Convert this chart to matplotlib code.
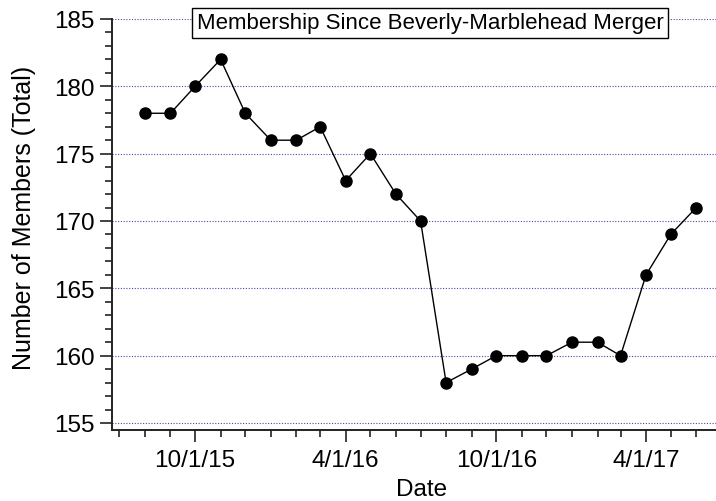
import matplotlib
matplotlib.use("Agg")
import matplotlib.pyplot as plt
import matplotlib.dates as mdates
import numpy as np
import pandas as pd

dates = pd.date_range("2015-08-01", "2017-06-01", freq="MS")
members = [178, 178, 180, 182, 178, 176, 176, 177, 173, 175, 172, 170,
           158, 159, 160, 160, 160, 161, 161, 160, 166, 169, 171]
major_ticks = pd.to_datetime(["2015-10-01", "2016-04-01", "2016-10-01", "2017-04-01"])
major_labels = ["10/1/15", "4/1/16", "10/1/16", "4/1/17"]
title = "Membership Since Beverly-Marblehead Merger"

plt.rcParams['font.family'] = ['Liberation Sans', 'DejaVu Sans']

fig = plt.figure(figsize=(7.16, 5.02), dpi=100)
ax = fig.add_axes([112/716, 71/502, 1 - 112/716, (431-20)/502])

ax.plot(dates, members, color='black', lw=1.0, marker='o', ms=8, zorder=3)

ax.set_ylim(154.48, 185)
ax.set_xlim(pd.Timestamp("2015-06-22"), pd.Timestamp("2017-06-25"))

ax.set_yticks(np.arange(155, 186, 5))
ax.yaxis.set_minor_locator(matplotlib.ticker.MultipleLocator(1))
ax.set_xticks(major_ticks)
ax.set_xticklabels(major_labels)
ax.xaxis.set_minor_locator(mdates.MonthLocator())

ax.grid(axis='y', which='major', color='#4a4aa8', linestyle=(0, (1, 1.5)), lw=0.8)
ax.set_axisbelow(True)

for s in ['top', 'right']:
    ax.spines[s].set_visible(False)
for s in ['left', 'bottom']:
    ax.spines[s].set_linewidth(1.4)
    ax.spines[s].set_color('#222222')

ax.tick_params(axis='both', which='major', direction='out', length=8.5, width=1.2,
               labelsize=17.5, colors='#222222', labelcolor='black')
ax.tick_params(axis='both', which='minor', direction='out', length=5, width=1.2, colors='#222222')
ax.tick_params(axis='x', which='major', pad=5)
ax.tick_params(axis='y', which='major', pad=4)

ax.set_xlabel("Date", fontsize=17.5, labelpad=5)
ax.xaxis.label.set_x(0.512)
ax.set_ylabel("Number of Members (Total)", fontsize=18)
ax.yaxis.set_label_coords(-0.126, 0.518)

fig.text(430/716, 1 - 24/502, title, fontsize=16, ha='center', va='center',
         bbox=dict(boxstyle='square,pad=0.22', fc='white', ec='black', lw=1.0), zorder=5)

fig.savefig("out.png", dpi=100)
